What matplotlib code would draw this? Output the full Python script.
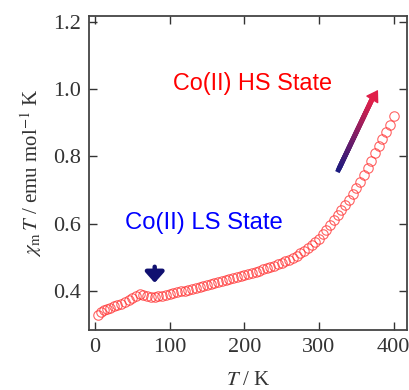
import matplotlib
matplotlib.use("Agg")
import matplotlib.pyplot as plt
import numpy as np
from matplotlib.collections import LineCollection
from matplotlib.colors import LinearSegmentedColormap

plt.rcParams["font.family"] = ["Liberation Serif", "DejaVu Serif"]
plt.rcParams["mathtext.fontset"] = "stix"

# chi_m T vs T data
temps = [4, 8, 12, 16, 20, 25, 30, 35, 40, 45, 50, 55, 60, 65, 70, 75, 80, 85, 90, 95,
         100, 105, 110, 115, 120, 125, 130, 135, 140, 145, 150, 155, 160, 165, 170, 175,
         180, 185, 190, 195, 200, 205, 210, 215, 220, 225, 230, 235, 240, 245, 250, 255,
         260, 265, 270, 275, 280, 285, 290, 295, 300, 305, 310, 315, 320, 325, 330, 335,
         340, 345, 350, 355, 360, 365, 370, 375, 380, 385, 390, 395, 400]
chiT = [0.328, 0.338, 0.343, 0.347, 0.350, 0.354, 0.358, 0.362, 0.367, 0.372, 0.378,
        0.386, 0.390, 0.387, 0.384, 0.383, 0.383, 0.384, 0.386, 0.388, 0.390, 0.393,
        0.396, 0.399, 0.401, 0.403, 0.406, 0.409, 0.412, 0.415, 0.418, 0.421, 0.424,
        0.427, 0.430, 0.433, 0.436, 0.439, 0.442, 0.445, 0.448, 0.451, 0.454, 0.457,
        0.460, 0.464, 0.468, 0.471, 0.475, 0.479, 0.483, 0.488, 0.493, 0.499, 0.505,
        0.512, 0.520, 0.528, 0.537, 0.546, 0.556, 0.568, 0.581, 0.595, 0.610, 0.625,
        0.640, 0.655, 0.670, 0.687, 0.705, 0.724, 0.744, 0.765, 0.787, 0.809, 0.830,
        0.852, 0.873, 0.895, 0.920]

xticks = [0, 100, 200, 300, 400]
yticks = [0.4, 0.6, 0.8, 1.0, 1.2]

fig = plt.figure(figsize=(4.1, 3.9), dpi=100)
ax = fig.add_axes([0.217, 0.154, 0.776, 0.805])

ax.plot(temps, chiT, "o", ms=6.8, mfc="none", mec="#ff3030", mew=0.8, alpha=0.75)

ax.set_xlim(-8, 418)
ax.set_ylim(0.284, 1.218)
ax.set_xticks(xticks)
ax.set_yticks(yticks)
ax.set_yticklabels([f"{v:.1f}" for v in yticks])
ax.tick_params(direction="in", top=True, right=True, length=6, width=1,
               labelsize=16, colors="#333333", pad=6)
for s in ax.spines.values():
    s.set_color("#444444")
    s.set_linewidth(1.3)

ax.set_xlabel(r"$T$ / K", fontsize=15, color="#333333", labelpad=10)
ax.set_ylabel(r"$\chi_{\rm m}\,T$ / emu mol$^{-1}$ K", fontsize=15, color="#333333",
              labelpad=6)

ax.text(105, 1.018, "Co(II) HS State", color="red", fontsize=16.8,
        family="Liberation Sans", va="center")
ax.text(40, 0.602, "Co(II) LS State", color="#0000ff", fontsize=17.2,
        family="Liberation Sans", va="center")

# short down arrow marking the LS region
ax.annotate("", xy=(80, 0.424), xytext=(80, 0.472),
            arrowprops=dict(arrowstyle="-|>,head_length=0.45,head_width=0.4",
                            color="#101070", lw=3.2, shrinkA=0, shrinkB=0,
                            mutation_scale=14))

# gradient arrow pointing to HS state
x0, y0, x1, y1 = 326, 0.76, 372, 0.975
n = 40
xs = np.linspace(x0, x1, n)
ys = np.linspace(y0, y1, n)
segs = np.stack([np.column_stack([xs[:-1], ys[:-1]]), np.column_stack([xs[1:], ys[1:]])], axis=1)
cmap = LinearSegmentedColormap.from_list("arr", ["#1a1a80", "#e0204a"])
lc = LineCollection(segs, colors=cmap(np.linspace(0, 1, n - 1)), linewidths=3.5,
                    capstyle="projecting")
ax.add_collection(lc)
ax.annotate("", xy=(379, 0.998), xytext=(370, 0.965),
            arrowprops=dict(arrowstyle="-|>,head_length=0.7,head_width=0.45",
                            color="#e0204a", lw=1, shrinkA=0, shrinkB=0))

fig.savefig("out.png", dpi=100)
